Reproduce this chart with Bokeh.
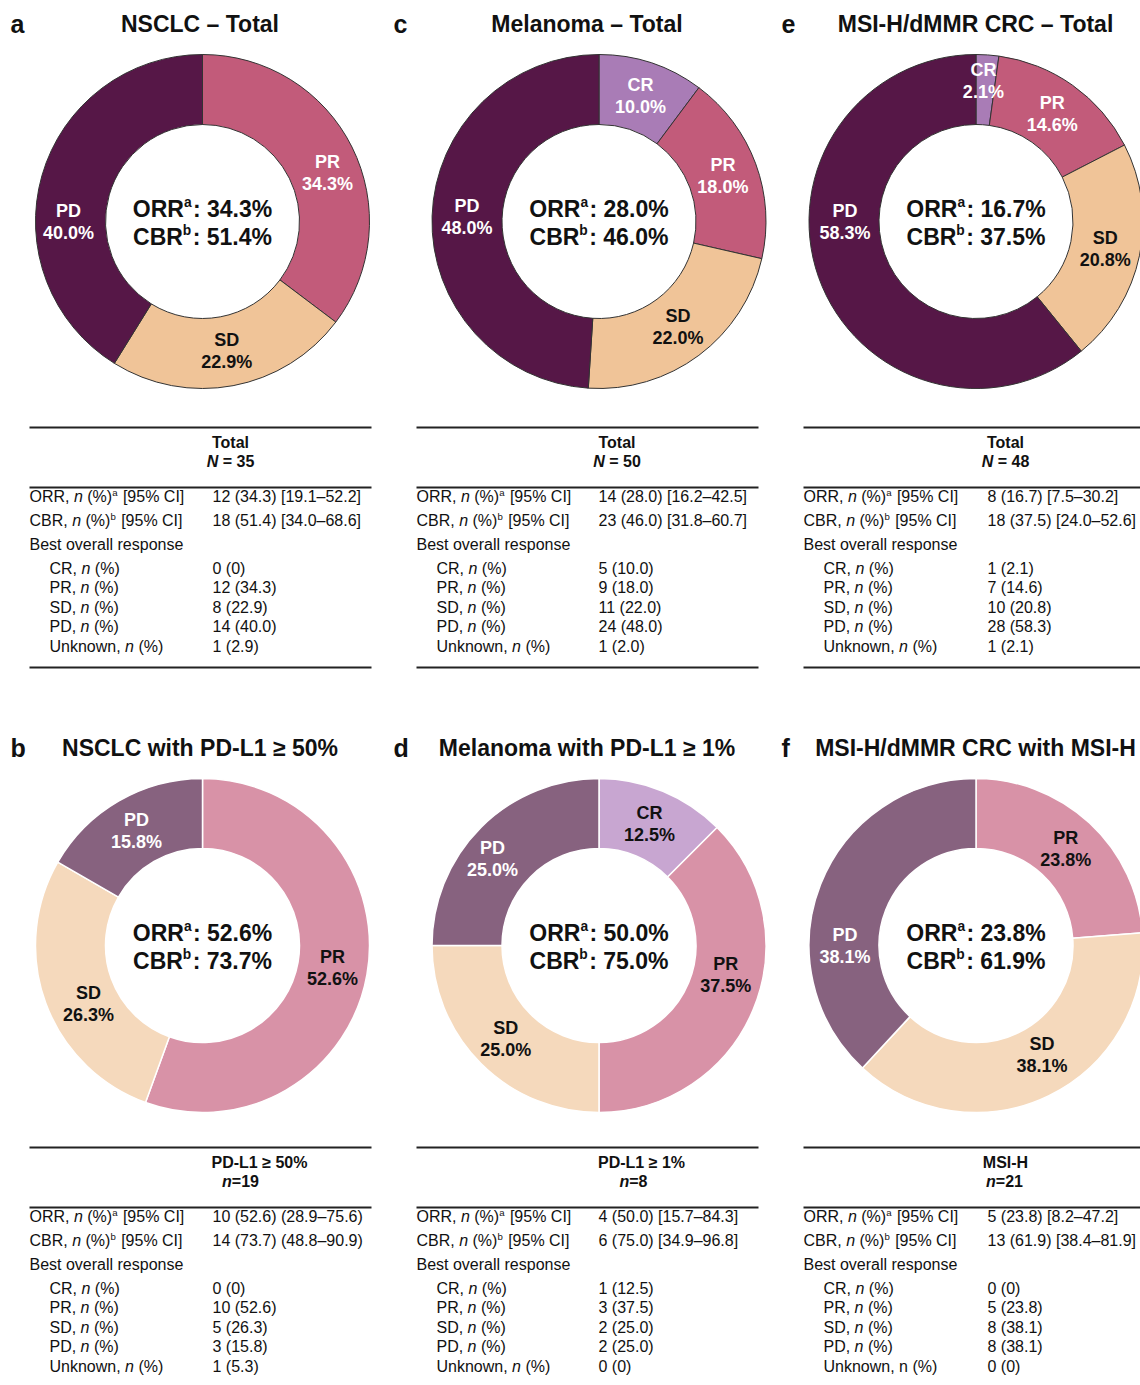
import math
from bokeh.plotting import figure
from bokeh.models import Range1d, ColumnDataSource
from bokeh.core.properties import value
from bokeh.embed import file_html
from bokeh.resources import INLINE

# ---------------- data ----------------
panel_letters = ["a", "c", "e", "b", "d", "f"]
panel_titles = ["NSCLC – Total", "Melanoma – Total", "MSI-H/dMMR CRC – Total",
                "NSCLC with PD-L1 ≥ 50%", "Melanoma with PD-L1 ≥ 1%", "MSI-H/dMMR CRC with MSI-H"]
pie_categories = [["PR", "SD", "PD"], ["CR", "PR", "SD", "PD"], ["CR", "PR", "SD", "PD"],
                  ["PR", "SD", "PD"], ["CR", "PR", "SD", "PD"], ["PR", "SD", "PD"]]
pie_values = [[34.3, 22.9, 40.0], [10.0, 18.0, 22.0, 48.0], [2.1, 14.6, 20.8, 58.3],
              [52.6, 26.3, 15.8], [12.5, 37.5, 25.0, 25.0], [23.8, 38.1, 38.1]]
orr_pct = [34.3, 28.0, 16.7, 52.6, 50.0, 23.8]
cbr_pct = [51.4, 46.0, 37.5, 73.7, 75.0, 61.9]
table_group = ["Total", "Total", "Total", "PD-L1 ≥ 50%", "PD-L1 ≥ 1%", "MSI-H"]
table_n_symbol = ["N", "N", "N", "n", "n", "n"]
table_n = [35, 50, 48, 19, 8, 21]
orr_ci = ["12 (34.3) [19.1–52.2]", "14 (28.0) [16.2–42.5]", "8 (16.7) [7.5–30.2]",
          "10 (52.6) (28.9–75.6)", "4 (50.0) [15.7–84.3]", "5 (23.8) [8.2–47.2]"]
cbr_ci = ["18 (51.4) [34.0–68.6]", "23 (46.0) [31.8–60.7]", "18 (37.5) [24.0–52.6]",
          "14 (73.7) (48.8–90.9)", "6 (75.0) [34.9–96.8]", "13 (61.9) [38.4–81.9]"]
cr_n = ["0 (0)", "5 (10.0)", "1 (2.1)", "0 (0)", "1 (12.5)", "0 (0)"]
pr_n = ["12 (34.3)", "9 (18.0)", "7 (14.6)", "10 (52.6)", "3 (37.5)", "5 (23.8)"]
sd_n = ["8 (22.9)", "11 (22.0)", "10 (20.8)", "5 (26.3)", "2 (25.0)", "8 (38.1)"]
pd_n = ["14 (40.0)", "24 (48.0)", "28 (58.3)", "3 (15.8)", "2 (25.0)", "8 (38.1)"]
unknown_n = ["1 (2.9)", "1 (2.0)", "1 (2.1)", "1 (5.3)", "0 (0)", "0 (0)"]

# ---------------- styles / layout ----------------
TOP_COLORS = {"PD": "#561747", "PR": "#c25b7a", "SD": "#f0c498", "CR": "#a97cb6"}
BOT_COLORS = {"PD": "#87627f", "PR": "#d892a7", "SD": "#f5d9bc", "CR": "#c8a6d1"}
TOP_LABEL_COLORS = {"PD": "white", "PR": "white", "SD": "#111111", "CR": "white"}
BOT_LABEL_COLORS = {"PD": "white", "PR": "#111111", "SD": "#111111", "CR": "#111111"}

col_cx = [202, 598.5, 975.5]
row_cy = [221, 945]
R_OUT, R_IN, R_LAB = 167, 97, 132
title_cx = [199.5, 586.5, 975]
letter_x = [10, 393, 781]
title_mid = [23, 747]
tab_left = [29, 416, 803]
tab_right = [371, 758, 1140]
tab_val = [212, 598, 987]
head_group_cx = [230, 616.5, 1005, 259, 641, 1005]
head_n_cx = [230, 616.5, 1005, 240, 633, 1004]
ROW_OFF = 720
label_pos_override = {(0, "PR"): (69, 134), (0, "PD"): (270, 134), (2, "CR"): (3, 141),
                      (2, "PD"): (270, 131), (3, "SD"): (243, 128), (4, "PR"): (103, 130),
                      (4, "PD"): (309, 137), (5, "PD"): (270, 131), (5, "SD"): (149, 128)}

FONT = "Liberation Sans"
W, H = 1140, 1385
PAGE_H = 1385


def Y(py):
    return PAGE_H - py


REG = {' ': 278, '%': 889, '(': 333, ')': 333, ',': 278, '-': 333, '.': 278, '/': 278,
       ':': 278, '=': 584, '[': 278, ']': 278, '–': 556, '≥': 549}
BOLD = {' ': 278, '%': 889, '(': 333, ')': 333, ',': 278, '-': 333, '.': 278, '/': 278,
        ':': 333, '=': 584, '[': 333, ']': 333, '–': 556, '≥': 549}
for d in "0123456789":
    REG[d] = 556
    BOLD[d] = 556
REG.update(dict(zip("ABCDEFGHIJKLMNOPQRSTUVWXYZ",
                    [667, 667, 722, 722, 667, 611, 778, 722, 278, 500, 667, 556, 833, 722, 778, 667, 778, 722, 667, 611, 722, 667, 944, 667, 667, 611])))
REG.update(dict(zip("abcdefghijklmnopqrstuvwxyz",
                    [556, 556, 500, 556, 556, 278, 556, 556, 222, 222, 500, 222, 833, 556, 556, 556, 556, 333, 500, 278, 556, 500, 722, 500, 500, 500])))
BOLD.update(dict(zip("ABCDEFGHIJKLMNOPQRSTUVWXYZ",
                     [722, 722, 722, 722, 667, 611, 778, 722, 278, 556, 722, 611, 833, 722, 778, 667, 778, 722, 667, 611, 722, 667, 944, 667, 667, 611])))
BOLD.update(dict(zip("abcdefghijklmnopqrstuvwxyz",
                     [556, 611, 556, 611, 556, 333, 611, 611, 278, 278, 556, 278, 889, 611, 611, 611, 611, 389, 556, 333, 611, 556, 778, 556, 556, 500])))


def tw(s, size, bold=False):
    t = BOLD if bold else REG
    return sum(t.get(c, 556) for c in s) * size / 1000.0


TL = dict(x=[], y=[], text=[], size=[], style=[], color=[])
TC = dict(x=[], y=[], text=[], size=[], style=[], color=[])


def put(x, py, s, size, style="normal", color="#111111", center=False):
    T = TC if center else TL
    T["x"].append(x)
    T["y"].append(Y(py))
    T["text"].append(s)
    T["size"].append(f"{size}px")
    T["style"].append(style)
    T["color"].append(color)


STYLE = {"r": "normal", "i": "italic", "b": "bold", "bi": "bold italic"}


def rich(segs, x, mid_py, size, center=False, color="#111111", sup_scale=0.6, sup_raise=0.3):
    sup_size = size * sup_scale
    widths = []
    for t, k in segs:
        if k.startswith("s"):
            widths.append(tw(t, sup_size, k == "sb") + size * 0.06)
        else:
            widths.append(tw(t, size, "b" in k))
    total = sum(widths)
    x0 = x - total / 2.0 if center else x
    for (t, k), w in zip(segs, widths):
        bold = "b" in k
        if k.startswith("s"):
            sz = sup_size
            st = "bold" if k == "sb" else "normal"
            py = mid_py - size * sup_raise
        else:
            sz = size
            st = STYLE[k]
            py = mid_py
        lead = len(t) - len(t.lstrip(" "))
        s = t.strip(" ")
        if s:
            put(x0 + tw(" " * lead, sz, bold), py, s, round(sz, 2), st, color)
        x0 += w


p = figure(width=W, height=H, x_range=Range1d(0, W), y_range=Range1d(PAGE_H - H, PAGE_H),
           output_backend="svg", toolbar_location=None, min_border=0,
           x_axis_location=None, y_axis_location=None)
p.grid.visible = False
p.outline_line_color = None
p.background_fill_color = "white"
p.border_fill_color = "white"

# ---------------- donuts ----------------
for row in range(2):
    src = dict(x=[], y=[], start=[], end=[], color=[])
    for col in range(3):
        i = row * 3 + col
        cx, cy = col_cx[col], row_cy[row]
        vals = pie_values[i]
        tot = sum(vals)
        acc = 0.0
        colors = TOP_COLORS if row == 0 else BOT_COLORS
        lcolors = TOP_LABEL_COLORS if row == 0 else BOT_LABEL_COLORS
        for cat, v in zip(pie_categories[i], vals):
            a0 = acc / tot * 360.0
            acc += v
            a1 = acc / tot * 360.0
            src["x"].append(cx)
            src["y"].append(Y(cy))
            src["start"].append(math.radians(90 - a0))
            src["end"].append(math.radians(90 - a1))
            src["color"].append(colors[cat])
            ang, rl = label_pos_override.get((i, cat), ((a0 + a1) / 2.0, R_LAB))
            lx = cx + rl * math.sin(math.radians(ang))
            ly = cy - rl * math.cos(math.radians(ang))
            put(lx, ly - 11, cat, 18, "bold", lcolors[cat], center=True)
            put(lx, ly + 11, f"{v:.1f}%", 18, "bold", lcolors[cat], center=True)
        # centre text
        rich([("ORR", "b"), ("a", "sb"), (f": {orr_pct[i]:.1f}%", "b")], cx, cy - 13, 23,
             center=True, sup_scale=0.6, sup_raise=0.26)
        rich([("CBR", "b"), ("b", "sb"), (f": {cbr_pct[i]:.1f}%", "b")], cx, cy + 15, 23,
             center=True, sup_scale=0.6, sup_raise=0.26)
        # titles
        put(letter_x[col], title_mid[row], panel_letters[i], 25, "bold")
        put(title_cx[col], title_mid[row], panel_titles[i], 23, "bold", center=True)
    if row == 0:
        p.annular_wedge(x="x", y="y", inner_radius=R_IN, outer_radius=R_OUT, start_angle="start",
                        end_angle="end", direction="clock", fill_color="color",
                        line_color="#333333", line_width=1, source=ColumnDataSource(src))
    else:
        p.annular_wedge(x="x", y="y", inner_radius=R_IN, outer_radius=R_OUT, start_angle="start",
                        end_angle="end", direction="clock", fill_color="color",
                        line_color="white", line_width=1.5, source=ColumnDataSource(src))

# ---------------- tables ----------------
row_centers = [496, 520, 544, 568, 587, 607, 626, 646]
seg = dict(x0=[], x1=[], y0=[], y1=[])
for row in range(2):
    off = row * ROW_OFF
    for col in range(3):
        i = row * 3 + col
        lines = [427, 487] + ([667] if row == 0 else [])
        for ly in lines:
            seg["x0"].append(tab_left[col])
            seg["x1"].append(tab_right[col])
            seg["y0"].append(Y(ly + off))
            seg["y1"].append(Y(ly + off))
        put(head_group_cx[i], 442 + off, table_group[i], 16, "bold", center=True)
        eq = " = " if table_n_symbol[i] == "N" else "="
        rich([(table_n_symbol[i], "bi"), (f"{eq}{table_n[i]}", "b")], head_n_cx[i], 461 + off, 16,
             center=True)
        lx, ix, vx = tab_left[col], tab_left[col] + 20, tab_val[col]
        nstyle_unknown = "r" if i == 5 else "i"
        labels = [
            ([("ORR, ", "r"), ("n", "i"), (" (%)", "r"), ("a", "sr"), (" [95% CI]", "r")], lx),
            ([("CBR, ", "r"), ("n", "i"), (" (%)", "r"), ("b", "sr"), (" [95% CI]", "r")], lx),
            ([("Best overall response", "r")], lx),
            ([("CR, ", "r"), ("n", "i"), (" (%)", "r")], ix),
            ([("PR, ", "r"), ("n", "i"), (" (%)", "r")], ix),
            ([("SD, ", "r"), ("n", "i"), (" (%)", "r")], ix),
            ([("PD, ", "r"), ("n", "i"), (" (%)", "r")], ix),
            ([("Unknown, ", "r"), ("n", nstyle_unknown), (" (%)", "r")], ix),
        ]
        vals = [orr_ci[i], cbr_ci[i], None, cr_n[i], pr_n[i], sd_n[i], pd_n[i], unknown_n[i]]
        for (segs, x), v, rc in zip(labels, vals, row_centers):
            mid = rc + off
            rich(segs, x, mid, 16, sup_scale=0.6, sup_raise=0.28)
            if v is not None:
                put(vx, mid, v, 16, "normal")

p.segment(x0="x0", y0="y0", x1="x1", y1="y1", source=ColumnDataSource(seg),
          line_color="#222222", line_width=2)

for T, align in ((TL, "left"), (TC, "center")):
    p.text(x="x", y="y", text="text", source=ColumnDataSource(T), text_font=value(FONT),
           text_font_size="size", text_font_style="style", text_color="color",
           text_align=align, text_baseline="alphabetic")

open("out.html", "w").write(file_html(p, INLINE))
